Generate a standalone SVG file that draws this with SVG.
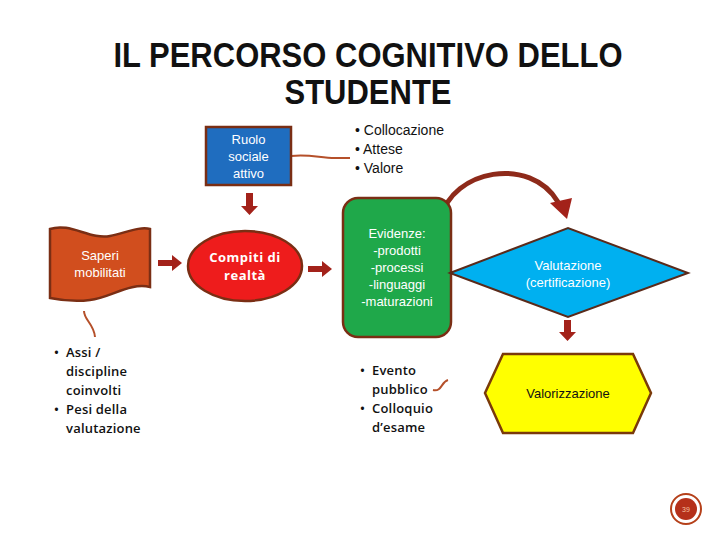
<svg xmlns="http://www.w3.org/2000/svg" width="720" height="540" viewBox="0 0 720 540">
<style>
.title{font-family:"Liberation Sans",Arial,sans-serif;font-weight:bold;font-size:31px;fill:#111;text-anchor:middle}
.w{font-family:"Liberation Sans",Arial,sans-serif;font-size:13px;fill:#fff;text-anchor:middle}
.k{font-family:"Liberation Sans",Arial,sans-serif;font-size:13px;fill:#111;text-anchor:middle}
.b{font-family:"Liberation Sans",Arial,sans-serif;font-size:14px;fill:#111}
.c{font-family:"Open Sans","Liberation Sans",sans-serif;font-size:13px;font-weight:600;fill:#111;letter-spacing:0.2px}
.cw{font-family:"Open Sans","Liberation Sans",sans-serif;font-size:13px;font-weight:bold;fill:#fff;text-anchor:middle;letter-spacing:0.5px}
.sh{stroke:#7a2e14;stroke-width:2.5}
.blk{fill:#a3221a}
.wave{fill:none;stroke:#b5502a;stroke-width:2}
</style>
<rect width="720" height="540" fill="#fff"/>
<text class="title" transform="translate(368,67) scale(1,1.12)">IL PERCORSO COGNITIVO DELLO</text>
<text class="title" transform="translate(368,104) scale(1,1.12)">STUDENTE</text>

<g id="connectors">
<path class="wave" d="M291,156 C310,154 320,158 335,158 L350,158"/>
<path class="wave" d="M84,311 C84,320 94,324 95,337"/>
<path class="wave" d="M433,390 C442,392 441,382 448,380"/>
<path class="blk" d="M246,193 h7 v13 h5 l-8.5,9 l-8.5,-9 h5 z"/>
<path class="blk" d="M158,260 h14 v-5 l10,8 l-10,8 v-5 h-14 z"/>
<path class="blk" d="M308,266 h14 v-5 l10,8 l-10,8 v-5 h-14 z"/>
<path class="blk" d="M564,320 h7 v12 h5 l-8.5,9 l-8.5,-9 h5 z"/>
<path d="M441,218 C452,170 530,155 558,202" fill="none" stroke="#8e2a1a" stroke-width="5"/>
<path d="M550,203 L572,198 L567,219 Z" fill="#a3221a"/>
</g>

<g id="ruolo">
<rect x="206" y="127" width="85" height="58" fill="#1f6dbf" class="sh"/>
<text class="w" x="248.5" y="144">Ruolo</text>
<text class="w" x="248.5" y="161">sociale</text>
<text class="w" x="248.5" y="178">attivo</text>
</g>

<g id="collocazione">
<text class="b" x="355" y="135">• Collocazione</text>
<text class="b" x="355" y="154">• Attese</text>
<text class="b" x="355" y="173">• Valore</text>
</g>

<g id="saperi">
<path d="M50,229 C70,222 90,240 110,236 C125,233 140,226 150,229 L150,287 C130,282 110,298 90,300 C75,302 60,300 50,298 Z" fill="#d14e1e" class="sh"/>
<text class="w" x="100" y="260">Saperi</text>
<text class="w" x="100" y="277">mobilitati</text>
</g>

<g id="compiti">
<ellipse cx="245" cy="266" rx="57" ry="35" fill="#ee1c1c" class="sh"/>
<text class="cw" x="245" y="262">Compiti di</text>
<text class="cw" x="245" y="280">realtà</text>
</g>

<g id="evidenze">
<rect x="343" y="198" width="108" height="139" rx="15" fill="#1fa84a" class="sh"/>
<text class="w" x="397" y="238">Evidenze:</text>
<text class="w" x="397" y="255">-prodotti</text>
<text class="w" x="397" y="272">-processi</text>
<text class="w" x="397" y="289">-linguaggi</text>
<text class="w" x="397" y="306">-maturazioni</text>
</g>

<g id="valutazione">
<path d="M450,273 L568,228 L688,273 L568,317 Z" fill="#00b0f0" stroke="#5a2a1a" stroke-width="2"/>
<text class="w" x="568" y="270">Valutazione</text>
<text class="w" x="568" y="287">(certificazione)</text>
</g>

<g id="valorizzazione">
<path d="M485,393 L503,354 L633,354 L651,393 L633,433 L503,433 Z" fill="#ffff00" stroke="#7a3a0a" stroke-width="2.5"/>
<text class="k" x="568" y="398">Valorizzazione</text>
</g>

<g id="assi">
<text class="c" x="54" y="357">•</text>
<text class="c" x="66" y="357">Assi /</text>
<text class="c" x="66" y="376">discipline</text>
<text class="c" x="66" y="395">coinvolti</text>
<text class="c" x="54" y="414">•</text>
<text class="c" x="66" y="414">Pesi della</text>
<text class="c" x="66" y="433">valutazione</text>
</g>

<g id="evento">
<text class="c" x="360" y="375">•</text>
<text class="c" x="372" y="375">Evento</text>
<text class="c" x="372" y="394">pubblico</text>
<text class="c" x="360" y="413">•</text>
<text class="c" x="372" y="413">Colloquio</text>
<text class="c" x="372" y="432">d’esame</text>
</g>

<g id="pagenum">
<circle cx="686" cy="509" r="15" fill="none" stroke="#b5401a" stroke-width="2"/>
<circle cx="686" cy="509" r="11" fill="#b5301a"/>
<text x="686" y="511.5" font-family="Liberation Sans,Arial,sans-serif" font-size="7" fill="#f5c0a0" text-anchor="middle">39</text>
</g>
</svg>
